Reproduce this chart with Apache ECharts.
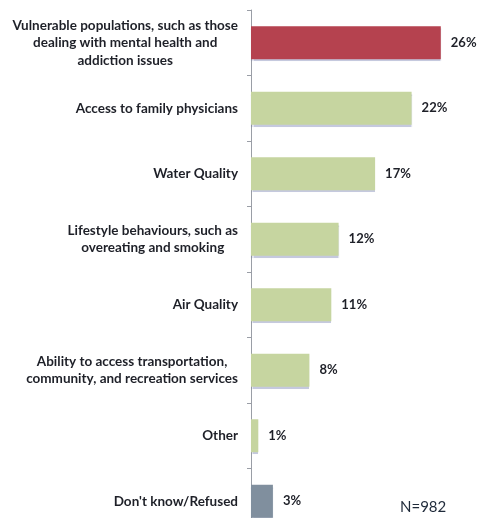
<!DOCTYPE html>
<html>
<head>
<meta charset="utf-8">
<script src="https://cdn.jsdelivr.net/npm/echarts@6/dist/echarts.min.js"></script>
<style>
  html, body { margin: 0; padding: 0; background: #ffffff; }
  #chart { width: 479px; height: 518px; }
</style>
</head>
<body>
<div id="chart"></div>
<script>
// Most important health issues (share of respondents)
const categories = [
  'Vulnerable populations, such as those\ndealing with mental health and\naddiction issues',
  'Access to family physicians',
  'Water Quality',
  'Lifestyle behaviours, such as\novereating and smoking',
  'Air Quality',
  'Ability to access transportation,\ncommunity, and recreation services',
  'Other',
  "Don't know/Refused"
];
const values = [26, 22, 17, 12, 11, 8, 1, 3];
const sampleNote = 'N=982';

const barColors = ['#b5424f', '#c6d5a0', '#c6d5a0', '#c6d5a0', '#c6d5a0', '#c6d5a0', '#c6d5a0', '#808f9e'];
const textColor = '#1e2028';
const fontFamily = 'Lato, "Open Sans", sans-serif';

const chart = echarts.init(document.getElementById('chart'));

chart.setOption({
  animation: false,
  backgroundColor: '#ffffff',
  // the plot runs a little past the lower edge, so the last bar is clipped
  grid: {
    left: 251, right: 9, top: 10, height: 524,
    containLabel: false,
    outerBoundsMode: 'none'
  },
  xAxis: {
    type: 'value',
    min: 0,
    max: 30,
    show: false
  },
  yAxis: {
    type: 'category',
    inverse: true,
    data: categories,
    axisLine: { show: true, lineStyle: { color: '#9a9ea6', width: 1 } },
    axisTick: { show: true, length: 4, lineStyle: { color: '#9a9ea6' } },
    axisLabel: {
      margin: 13,
      formatter: function (v) {
        return v.split('\n').map(function (s) { return '{c|' + s + '}'; }).join('\n');
      },
      rich: {
        c: {
          align: 'center',
          fontFamily: fontFamily,
          fontWeight: 'bold',
          fontSize: 13.5,
          lineHeight: 17.5,
          color: textColor
        }
      }
    }
  },
  series: [{
    type: 'bar',
    barWidth: 33,
    data: values.map(function (v, i) {
      return { value: v, itemStyle: { color: barColors[i] } };
    }),
    itemStyle: {
      shadowColor: 'rgba(90, 100, 160, 0.35)',
      shadowOffsetY: 2,
      shadowBlur: 1
    },
    label: {
      show: true,
      position: 'right',
      distance: 10,
      formatter: '{c}%',
      fontFamily: fontFamily,
      fontWeight: 'bold',
      fontSize: 13,
      color: textColor
    }
  }],
  graphic: [{
    type: 'text',
    left: 400,
    top: 500,
    style: {
      text: sampleNote,
      font: '15px ' + fontFamily,
      fill: '#1f2a3a'
    }
  }]
});
</script>
</body>
</html>
